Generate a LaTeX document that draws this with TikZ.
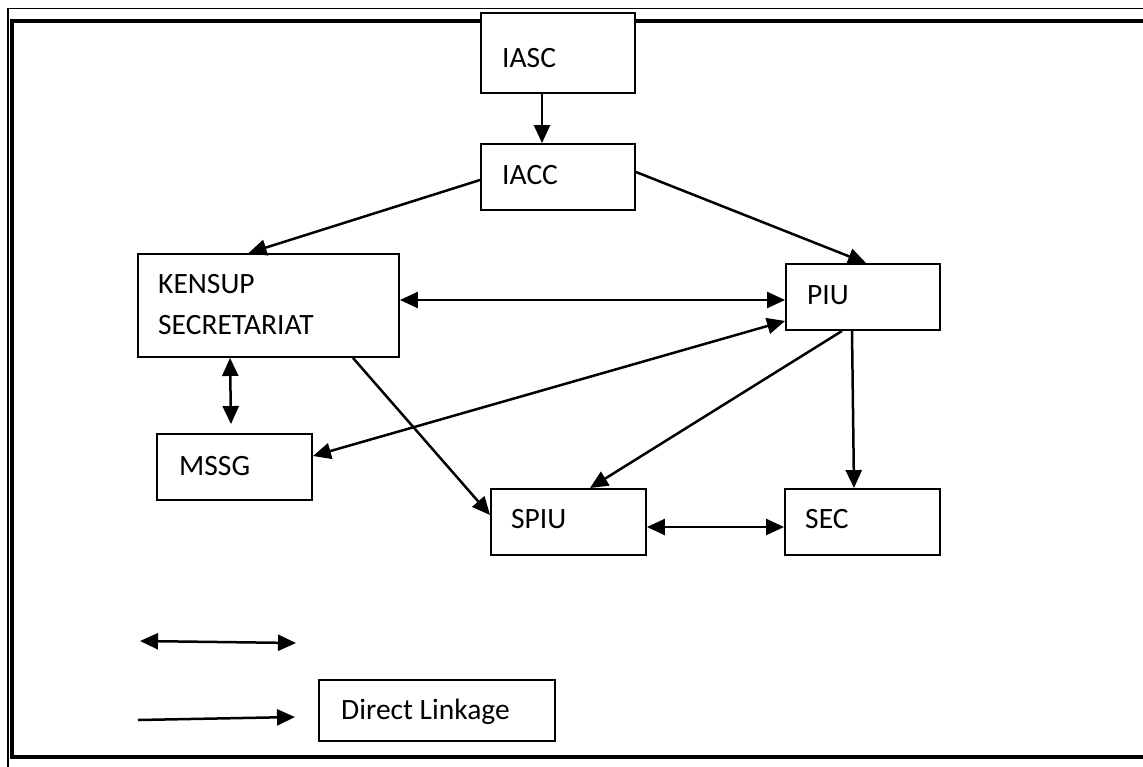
\documentclass[tikz,border=0pt]{standalone}
\usepackage{fontspec}
\setmainfont{Carlito}
\usetikzlibrary{arrows.meta}
\begin{document}
\begin{tikzpicture}[x=1pt,y=-1pt,
  box/.style={draw=black,line width=1.9pt,fill=white,rectangle,inner sep=0pt},
  lbl/.style={anchor=base west,inner sep=0pt,font=\fontsize{29.5}{32}\selectfont},
  tip/.style={},
  conn/.style={line width=2.5pt,-{Triangle[length=18pt,width=16pt]}},
  bconn/.style={line width=2.5pt,{Triangle[length=18pt,width=16pt]}-{Triangle[length=18pt,width=16pt]}}]
\useasboundingbox (0,0) rectangle (1143,766);
\clip (0,0) rectangle (1143,766);
\fill[white] (0,0) rectangle (1143,766);
% page border
\draw[line width=1.3pt] (8,770) -- (8,8.5) -- (1150,8.5);
\draw[line width=4pt] (1150,21) -- (12,21) -- (12,757) -- (1150,757);
% boxes
\node[box,minimum width=154pt,minimum height=80pt] (iasc) at (558,53) {};
\node[box,minimum width=154pt,minimum height=66pt] (iacc) at (558,177) {};
\node[box,minimum width=261pt,minimum height=103pt] (kensup) at (268.5,305.5) {};
\node[box,minimum width=155pt,minimum height=66pt] (mssg) at (234.5,467) {};
\node[box,minimum width=154pt,minimum height=66pt] (piu) at (863,297) {};
\node[box,minimum width=155pt,minimum height=66pt] (spiu) at (568.5,522) {};
\node[box,minimum width=155pt,minimum height=66pt] (sec) at (862.5,522) {};
\node[box,minimum width=236pt,minimum height=61pt] (legbox) at (437,710.5) {};
% labels
\node[lbl] (iasct) at (502,67) {IASC};
\node[lbl] (iacct) at (502,184) {IACC};
\node[lbl] (kensupt1) at (158,293) {KENSUP};
\node[lbl] (kensupt2) at (158,334) {SECRETARIAT};
\node[lbl] (piut) at (807,304) {PIU};
\node[lbl] (mssgt) at (179,475) {MSSG};
\node[lbl] (spiut) at (511,528) {SPIU};
\node[lbl] (sect) at (805,528) {SEC};
\node[lbl] (legt) at (341,719) {Direct Linkage};
% connectors
\draw[conn] ([xshift=-16pt]iasc.south) -- ([xshift=-16pt]iacc.north);
\draw[conn] ([yshift=-3pt]iacc.west) -- ([xshift=-20pt]kensup.north);
\draw[conn] ([yshift=5pt]iacc.east) -- ([xshift=3pt]piu.north);
\draw[bconn] ([yshift=5.5pt]kensup.east) -- ([yshift=-3pt]piu.west);
\draw[bconn] ([yshift=10pt]piu.south west) -- ([yshift=11pt]mssg.east);
\draw[bconn] ([xshift=-38.5pt]kensup.south) -- ([xshift=-3.5pt,yshift=9pt]mssg.north);
\draw[conn] ([xshift=84.5pt]kensup.south) -- ([yshift=7pt]spiu.west);
\draw[conn] ([xshift=-21pt]piu.south) -- ([xshift=21.5pt]spiu.north);
\draw[conn] ([xshift=-11pt]piu.south) -- ([xshift=-8.5pt]sec.north);
\draw[bconn] ([yshift=-5pt]spiu.east) -- ([yshift=-5pt]sec.west);
% legend
\coordinate (l1a) at (140,641);
\coordinate (l1b) at (296,643);
\coordinate (l2a) at (138,720);
\coordinate (l2b) at (295,717);
\draw[bconn] (l1a) -- (l1b);
\draw[conn] (l2a) -- (l2b);
\end{tikzpicture}
\end{document}
